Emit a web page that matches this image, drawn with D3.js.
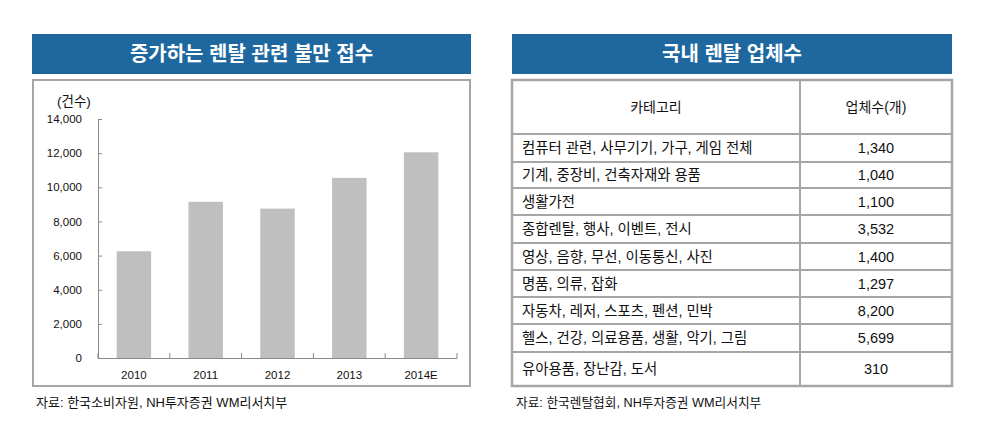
<!DOCTYPE html>
<html lang="ko">

<head>
    <meta charset="UTF-8">
    <title>렌탈</title>
    <script src="https://cdn.jsdelivr.net/npm/d3@7"></script>
    <style>
        body { margin: 0; background: #fff; }
        text { font-family: "Liberation Sans", "Noto Sans CJK KR", sans-serif; fill: #111; }
    </style>
</head>

<body>
    <svg></svg>
</body>
<script>
    // data
    const years = ['2010', '2011', '2012', '2013', '2014E'];
    const complaints = [6250, 9150, 8750, 10550, 12050];
    const yTicks = [0, 2000, 4000, 6000, 8000, 10000, 12000, 14000];

    const categories = [
        '컴퓨터 관련, 사무기기, 가구, 게임 전체',
        '기계, 중장비, 건축자재와 용품',
        '생활가전',
        '종합렌탈, 행사, 이벤트, 전시',
        '영상, 음향, 무선, 이동통신, 사진',
        '명품, 의류, 잡화',
        '자동차, 레저, 스포츠, 펜션, 민박',
        '헬스, 건강, 의료용품, 생활, 악기, 그림',
        '유아용품, 장난감, 도서'
    ];
    const companies = [1340, 1040, 1100, 3532, 1400, 1297, 8200, 5699, 310];

    const W = 983, H = 433;
    const blue = '#1f689f';
    const frame = '#a6a6a6';

    const svg = d3.select('svg').attr('width', W).attr('height', H);

    // panel titles
    function titleBar(x0, x1, label) {
        svg.append('rect').attr('x', x0).attr('y', 34).attr('width', x1 - x0).attr('height', 40).attr('fill', blue);
        svg.append('text')
            .attr('x', (x0 + x1) / 2).attr('y', 54).attr('dy', '0.36em')
            .attr('text-anchor', 'middle')
            .style('fill', '#fff').style('font-weight', 'bold').style('font-size', '20px')
            .style('font-family', '"Noto Sans CJK KR", sans-serif')
            .text(label);
    }
    titleBar(32, 471, '증가하는 렌탈 관련 불만 접수');
    titleBar(512, 952, '국내 렌탈 업체수');

    /******** left: bar chart ********/
    svg.append('rect').attr('x', 33).attr('y', 80).attr('width', 437).attr('height', 306)
        .attr('fill', 'none').attr('stroke', frame).attr('stroke-width', 2);

    const x = d3.scaleBand().domain(years).range([98, 457]).paddingInner(0.52).paddingOuter(0.26);
    const y = d3.scaleLinear().domain([0, 14000]).range([358, 119]);

    const plot = svg.append('g');

    plot.selectAll('.bar')
        .data(years)
        .join('rect')
        .attr('class', 'bar')
        .attr('x', d => x(d))
        .attr('width', x.bandwidth())
        .attr('y', (d, i) => y(complaints[i]))
        .attr('height', (d, i) => y(0) - y(complaints[i]) + 1)
        .attr('fill', '#bfbfbf');

    const yAxis = plot.append('g')
        .attr('transform', 'translate(98,0)')
        .call(d3.axisRight(y).tickValues(yTicks).tickSize(4).tickFormat(''));
    yAxis.selectAll('path, line').attr('stroke', '#888');

    plot.selectAll('.ylab')
        .data(yTicks)
        .join('text')
        .attr('class', 'ylab')
        .attr('x', 82).attr('y', d => y(d)).attr('dy', '0.36em')
        .attr('text-anchor', 'end')
        .style('font-size', '11.5px')
        .text(d => d3.format(',')(d));

    // x axis: ticks sit between the bands and point up
    const half = x.step() * x.paddingInner() / 2;
    const edges = years.map(d => x(d) - half).concat([457]);
    plot.append('line').attr('x1', 98).attr('x2', 457).attr('y1', 358.5).attr('y2', 358.5).attr('stroke', '#888');
    plot.selectAll('.xtick')
        .data(edges)
        .join('line')
        .attr('class', 'xtick')
        .attr('x1', d => d).attr('x2', d => d)
        .attr('y1', 358.5).attr('y2', 353)
        .attr('stroke', '#888');

    plot.selectAll('.xlab')
        .data(years)
        .join('text')
        .attr('class', 'xlab')
        .attr('x', d => x(d) + x.bandwidth() / 2).attr('y', 375).attr('dy', '0.36em')
        .attr('text-anchor', 'middle')
        .style('font-size', '11.5px')
        .text(d => d);

    svg.append('text').attr('x', 57).attr('y', 101).attr('dy', '0.36em')
        .style('font-size', '13.5px').text('(건수)');

    svg.append('text').attr('x', 36).attr('y', 402).attr('dy', '0.36em')
        .style('font-size', '13px').text('자료: 한국소비자원, NH투자증권 WM리서치부');

    /******** right: table ********/
    const rowEdges = [80, 134, 162, 188, 215, 243, 270, 297, 324, 352, 386];
    const colX = [512, 800, 952];

    const table = svg.append('g');
    table.selectAll('.hline')
        .data(rowEdges.slice(1, -1))
        .join('line')
        .attr('class', 'hline')
        .attr('x1', colX[0]).attr('x2', colX[2])
        .attr('y1', d => d).attr('y2', d => d)
        .attr('stroke', frame).attr('stroke-width', 2);
    table.append('line')
        .attr('x1', colX[1]).attr('x2', colX[1])
        .attr('y1', rowEdges[0]).attr('y2', rowEdges[rowEdges.length - 1])
        .attr('stroke', frame).attr('stroke-width', 2);
    table.append('rect')
        .attr('x', colX[0]).attr('y', rowEdges[0])
        .attr('width', colX[2] - colX[0]).attr('height', rowEdges[rowEdges.length - 1] - rowEdges[0])
        .attr('fill', 'none').attr('stroke', frame).attr('stroke-width', 2.5);

    const headY = (rowEdges[0] + rowEdges[1]) / 2;
    table.append('text').attr('x', (colX[0] + colX[1]) / 2).attr('y', headY).attr('dy', '0.36em')
        .attr('text-anchor', 'middle').style('font-size', '14px').text('카테고리');
    table.append('text').attr('x', (colX[1] + colX[2]) / 2).attr('y', headY).attr('dy', '0.36em')
        .attr('text-anchor', 'middle').style('font-size', '14px').text('업체수(개)');

    const rowMid = i => (rowEdges[i + 1] + rowEdges[i + 2]) / 2;
    table.selectAll('.cat')
        .data(categories)
        .join('text')
        .attr('class', 'cat')
        .attr('x', 522).attr('y', (d, i) => rowMid(i)).attr('dy', '0.36em')
        .style('font-size', '14.4px')
        .text(d => d);
    table.selectAll('.num')
        .data(companies)
        .join('text')
        .attr('class', 'num')
        .attr('x', (colX[1] + colX[2]) / 2).attr('y', (d, i) => rowMid(i)).attr('dy', '0.36em')
        .attr('text-anchor', 'middle')
        .style('font-size', '14.5px')
        .text(d => d3.format(',')(d));

    svg.append('text').attr('x', 516).attr('y', 402).attr('dy', '0.36em')
        .style('font-size', '12.7px').text('자료: 한국렌탈협회, NH투자증권 WM리서치부');
</script>

</html>
